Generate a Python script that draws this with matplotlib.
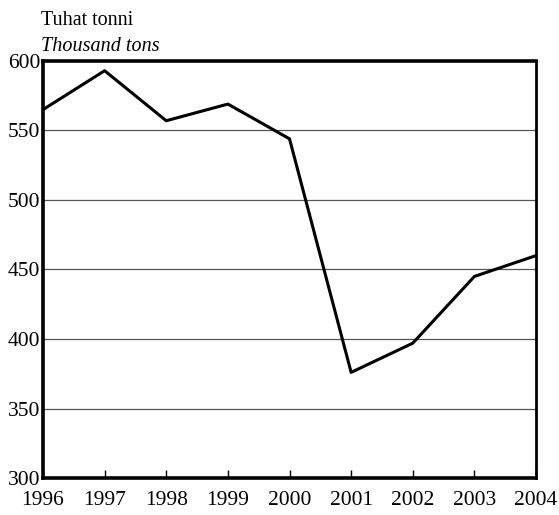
import matplotlib
matplotlib.use("Agg")
import matplotlib.pyplot as plt

years = [1996, 1997, 1998, 1999, 2000, 2001, 2002, 2003, 2004]
values = [565, 593, 557, 569, 544, 376, 397, 445, 460]
y_ticks = [300, 350, 400, 450, 500, 550, 600]

plt.rcParams["font.family"] = ["Liberation Serif", "DejaVu Serif"]

fig = plt.figure(figsize=(5.59, 5.15), dpi=100)
ax = fig.add_axes([0.0769, 0.0718, 0.882, 0.8098])

for yv in y_ticks[1:-1]:
    ax.axhline(yv, color="#555555", linewidth=0.9, zorder=1)

ax.plot(years, values, color="black", linewidth=2.2, zorder=3)

ax.set_xlim(1996, 2004)
ax.set_ylim(300, 600)
ax.set_xticks(years)
ax.set_yticks(y_ticks)
ax.tick_params(axis="x", direction="in", length=6, width=1, labelsize=15.5, pad=9)
ax.tick_params(axis="y", length=0, labelsize=15.5, pad=2)

for side in ["left", "bottom", "top"]:
    ax.spines[side].set_linewidth(2.6)
ax.spines["right"].set_linewidth(2.0)

fig.text(0.073, 0.961, "Tuhat tonni", fontsize=14.5, ha="left", va="center")
fig.text(0.073, 0.910, "Thousand tons", fontsize=14.5, style="italic", ha="left", va="center")

fig.savefig("out.png", dpi=100)
